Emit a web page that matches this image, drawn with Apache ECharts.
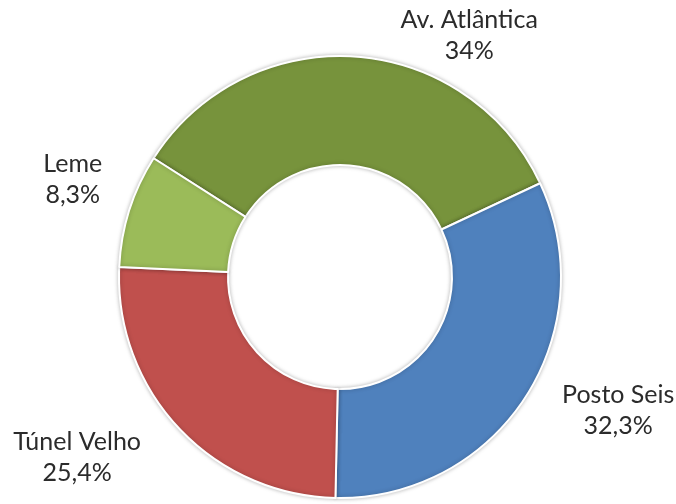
<!DOCTYPE html>
<html>
<head>
<meta charset="utf-8">
<script src="https://cdn.jsdelivr.net/npm/echarts@6/dist/echarts.min.js"></script>
<style>
html,body{margin:0;padding:0;background:#fff;}
#chart{width:676px;height:504px;}
</style>
</head>
<body>
<div id="chart"></div>
<script>
var categories = ['Av. Atlântica', 'Posto Seis', 'Túnel Velho', 'Leme'];
var values = [34, 32.3, 25.4, 8.3];
var valueLabels = ['34%', '32,3%', '25,4%', '8,3%'];
var colors = ['#77933C', '#4F81BD', '#C0504D', '#9BBB59'];
// label nudges relative to library-computed label positions (style only)
var labelShift = [[40, -1], [15, 2], [-18, 16], [-3, -25]];

var chart = echarts.init(document.getElementById('chart'));
var data = categories.map(function (c, i) {
  return { name: c, value: values[i], itemStyle: { color: colors[i] } };
});
chart.setOption({
  animation: false,
  series: [{
    type: 'pie',
    center: [340, 277],
    radius: [112, 221],
    startAngle: 147.5,
    clockwise: true,
    data: data,
    itemStyle: {
      borderColor: '#fff',
      borderWidth: 2,
      shadowBlur: 4,
      shadowColor: 'rgba(0,0,0,0.25)'
    },
    label: {
      show: true,
      position: 'outside',
      fontFamily: 'Lato',
      fontSize: 25,
      lineHeight: 31,
      color: '#2b2b2b',
      formatter: function (p) { return p.name + '\n' + valueLabels[p.dataIndex]; }
    },
    labelLine: { show: false, length: 20, length2: 0 },
    labelLayout: function (p) {
      var r = p.labelRect;
      var s = labelShift[p.dataIndex];
      return {
        x: r.x + r.width / 2 + s[0],
        y: r.y + r.height / 2 + s[1],
        align: 'center',
        verticalAlign: 'middle'
      };
    },
    emphasis: { disabled: true }
  }]
});
</script>
</body>
</html>
